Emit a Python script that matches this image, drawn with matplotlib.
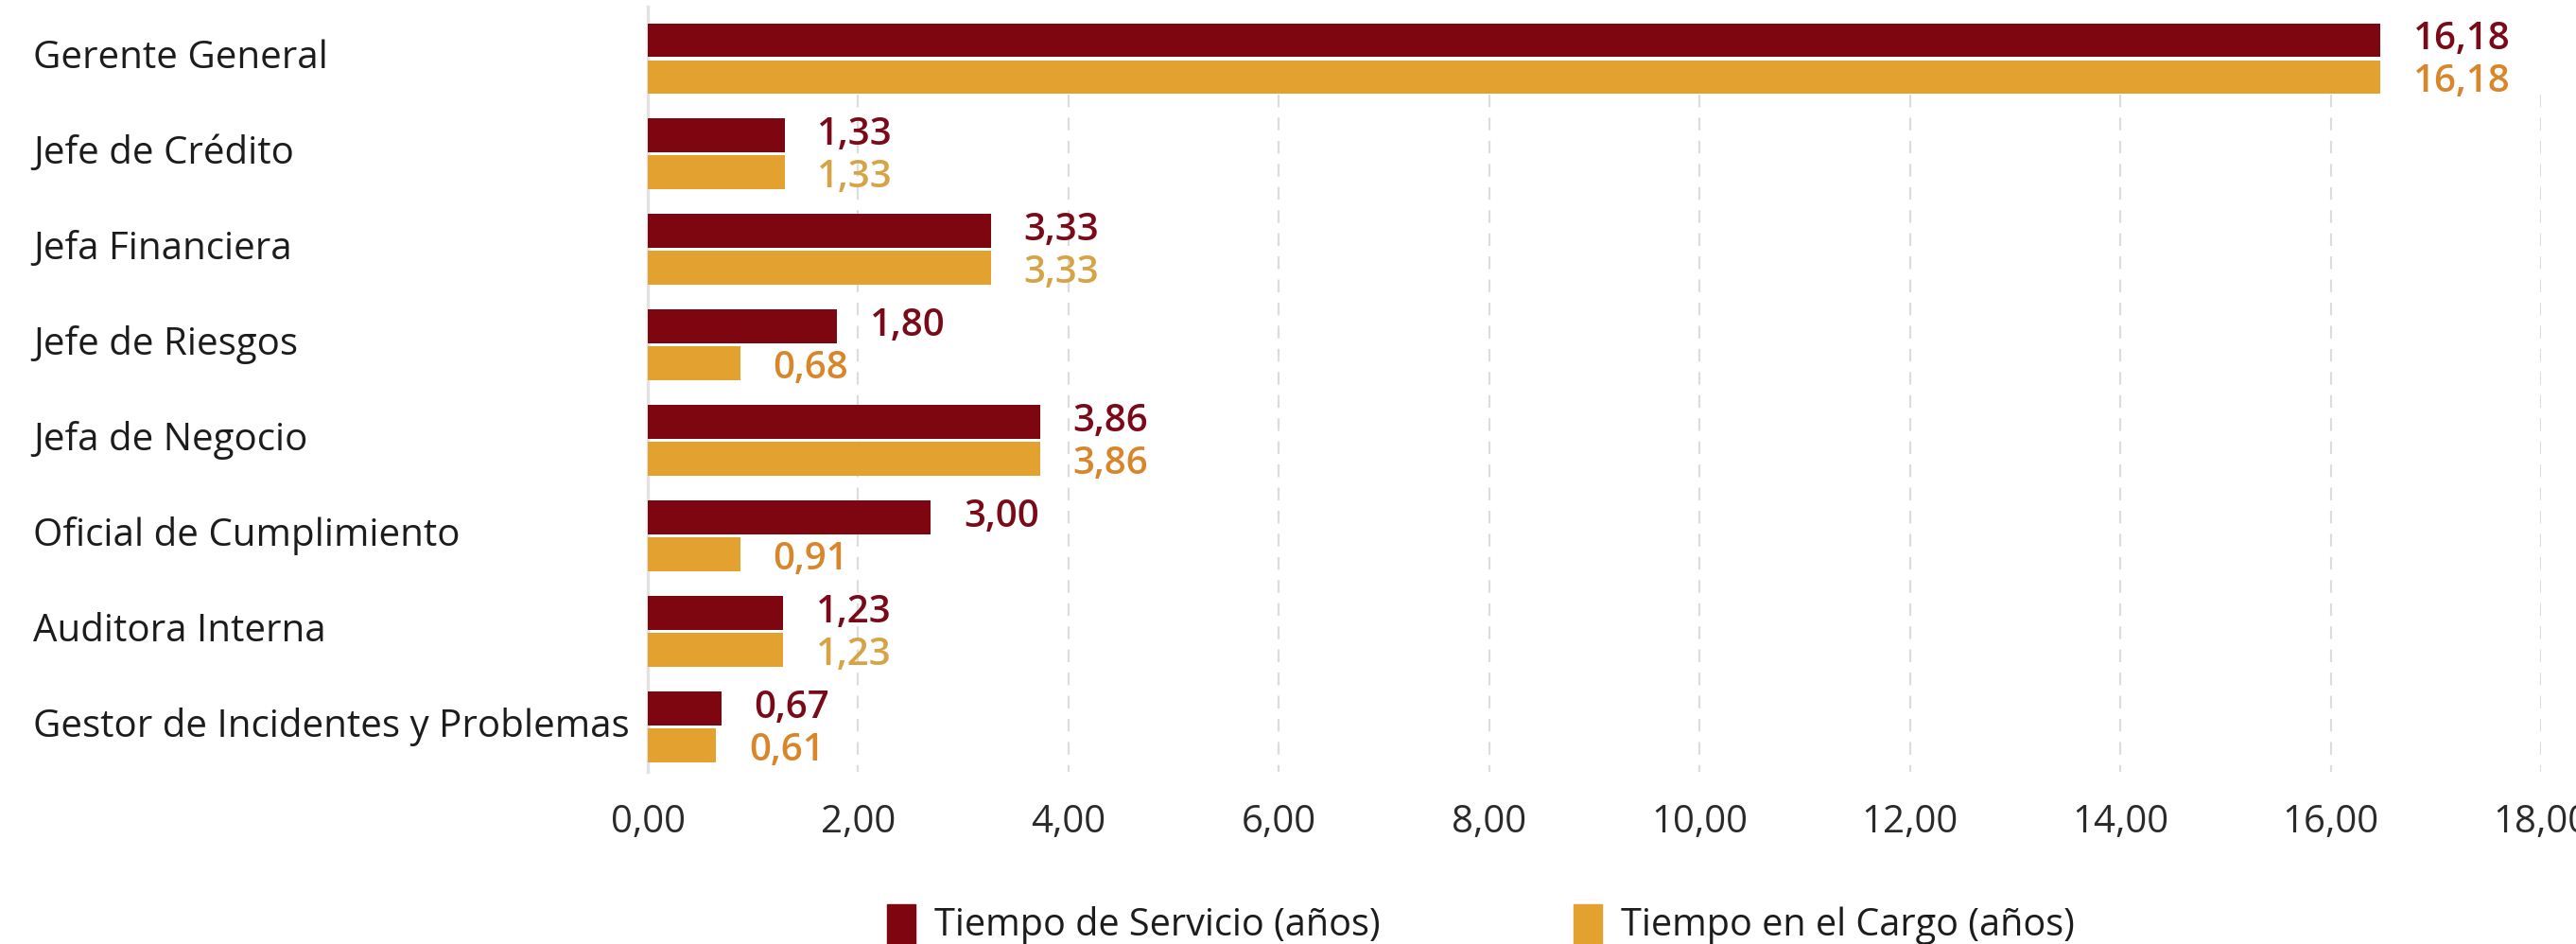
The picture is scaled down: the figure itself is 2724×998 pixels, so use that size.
import matplotlib
matplotlib.use("Agg")
import matplotlib.pyplot as plt
from matplotlib.patches import Rectangle
from matplotlib.transforms import blended_transform_factory

plt.rcParams['font.family'] = ['Open Sans', 'DejaVu Sans']

categories = ["Gerente General", "Jefe de Crédito", "Jefa Financiera", "Jefe de Riesgos",
              "Jefa de Negocio", "Oficial de Cumplimiento", "Auditora Interna",
              "Gestor de Incidentes y Problemas"]
# bar lengths as drawn in the picture
servicio = [16.47, 1.30, 3.26, 1.80, 3.73, 2.69, 1.29, 0.70]
cargo = [16.47, 1.30, 3.26, 0.88, 3.73, 0.88, 1.29, 0.65]
# value labels as printed
servicio_labels = ["16,18", "1,33", "3,33", "1,80", "3,86", "3,00", "1,23", "0,67"]
cargo_labels = ["16,18", "1,33", "3,33", "0,68", "3,86", "0,91", "1,23", "0,61"]
xticks = [0, 2, 4, 6, 8, 10, 12, 14, 16, 18]
series_names = ["Tiempo de Servicio (años)", "Tiempo en el Cargo (años)"]

RED = "#7e0610"
ORANGE = "#e3a12f"
RED_TXT = "#7a0a18"
ORANGE_TXT = "#d9862a"
GOLD_TXT = "#d6a447"
cargo_label_colors = [ORANGE_TXT, GOLD_TXT, GOLD_TXT, ORANGE_TXT, ORANGE_TXT,
                      ORANGE_TXT, GOLD_TXT, ORANGE_TXT]

FS_CAT = 29
FS_VAL = 29
FS_TICK = 29
FS_LEG = 28.5
W, H = 2724, 998
fig = plt.figure(figsize=(W / 100, H / 100), dpi=100)
ax = fig.add_axes([685 / W, 1 - 816 / H, (2687 - 685) / W, 809 / H])

n = len(categories)
ys = list(range(n))
bh = 0.356
off = 0.193
ax.barh([y - off for y in ys], servicio, height=bh, color=RED, zorder=3)
ax.barh([y + off for y in ys], cargo, height=bh, color=ORANGE, zorder=3)

for y, v, lab in zip(ys, servicio, servicio_labels):
    ax.annotate(lab, (v, y - off), xytext=(25, -7), textcoords="offset points",
                va="baseline", ha="left", fontsize=FS_VAL, fontweight="semibold", color=RED_TXT)
for y, v, lab, c in zip(ys, cargo, cargo_labels, cargo_label_colors):
    ax.annotate(lab, (v, y + off), xytext=(25, -11.5), textcoords="offset points",
                va="baseline", ha="left", fontsize=FS_VAL, fontweight="semibold", color=c)

ax.set_xlim(0, 18)
ax.set_ylim(7.47, -0.545)
ax.vlines(xticks[1:], 0.38, 7.47, colors="#dcdcdc", linestyles=(0, (6, 5)),
          linewidth=1.6, zorder=1)

for s in ["top", "right", "bottom"]:
    ax.spines[s].set_visible(False)
ax.spines["left"].set_color("#e2e2e2")
ax.spines["left"].set_linewidth(2.5)

ax.set_yticks([])
ax.set_xticks(xticks)
ax.set_xticklabels([f"{t:.2f}".replace(".", ",") for t in xticks], fontsize=FS_TICK, color="#2a2a2a")
ax.tick_params(axis="x", length=0, pad=24)

tr = blended_transform_factory(fig.transFigure, ax.transData)
for y, c in zip(ys, categories):
    ax.text(35 / W, y, c, transform=tr, ha="left", va="center", fontsize=FS_CAT, color="#1c1c1c")

# legend
legend_items = [(938, RED, series_names[0]), (1664, ORANGE, series_names[1])]
for x0, col, name in legend_items:
    fig.patches.append(Rectangle((x0 / W, 1 - 1010 / H), 30 / W, 54 / H,
                                 transform=fig.transFigure, color=col, zorder=5))
    fig.text((x0 + 50) / W, 1 - 989 / H, name, ha="left", va="baseline",
             fontsize=FS_LEG, color="#1c1c1c")

fig.savefig("out.png", dpi=100)
